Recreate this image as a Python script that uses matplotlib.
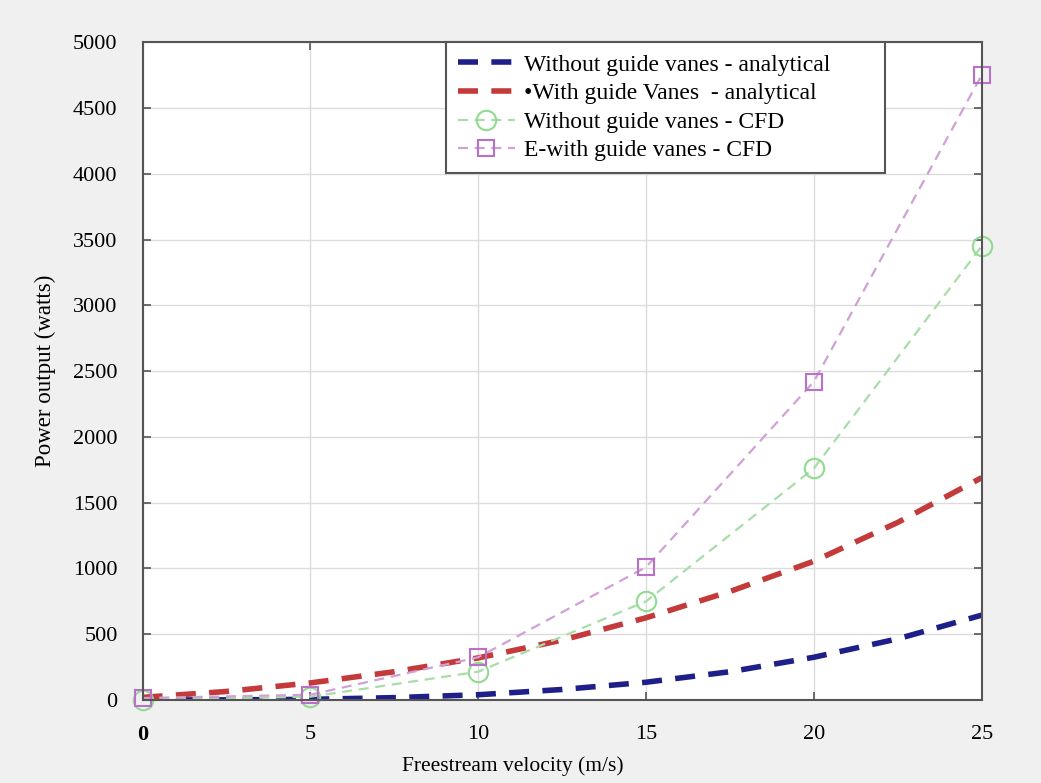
import matplotlib
matplotlib.use('Agg')
import matplotlib.pyplot as plt

# ── data ────────────────────────────────────────────────────────────────────
velocity_analytical = [0, 2.5, 5, 7.5, 10, 12.5, 15, 17.5, 20, 22.5, 25]
power_no_vanes_analytical = [0, 1, 5, 18, 40, 80, 135, 215, 325, 465, 645]
power_vanes_analytical = [20, 65, 130, 215, 320, 455, 625, 825, 1055, 1350, 1690]

velocity_cfd = [0, 5, 10, 15, 20, 25]
power_no_vanes_cfd = [0, 25, 215, 750, 1760, 3450]
power_vanes_cfd = [15, 40, 325, 1010, 2420, 4750]

x_ticks = [0, 5, 10, 15, 20, 25]
y_ticks = [0, 500, 1000, 1500, 2000, 2500, 3000, 3500, 4000, 4500, 5000]

labels = [
    'Without guide vanes - analytical',
    '\u2022With guide Vanes  - analytical',
    'Without guide vanes - CFD',
    'E-with guide vanes - CFD',
]

plt.rcParams['font.family'] = ['Liberation Serif', 'DejaVu Serif']

fig = plt.figure(figsize=(10.41, 7.83), dpi=100, facecolor='#f0f0f0')
ax = fig.add_axes([0.137, 0.106, 0.806, 0.84])
ax.set_facecolor('white')

ax.plot(velocity_analytical, power_no_vanes_analytical, color='#1f1f8a', lw=4,
        dashes=(3.6, 2.4), label=labels[0])
ax.plot(velocity_analytical, power_vanes_analytical, color='#c43a3a', lw=4,
        dashes=(3.6, 2.4), label=labels[1])
ax.plot(velocity_cfd, power_no_vanes_cfd, color='#a8dca8', lw=1.6,
        dashes=(4.5, 3), marker='o', ms=14, mfc='none', mec='#8fdc8f', mew=1.5,
        clip_on=False, label=labels[2])
ax.plot(velocity_cfd, power_vanes_cfd, color='#d0a0d6', lw=1.6,
        dashes=(4.5, 3), marker='s', ms=11, mfc='none', mec='#b870c8', mew=1.5,
        clip_on=False, label=labels[3])

ax.set_xlim(0, 25)
ax.set_ylim(0, 5000)
ax.set_xticks(x_ticks)
ax.set_yticks(y_ticks)
ax.set_xticklabels([str(t) for t in x_ticks], fontsize=16)
ax.get_xticklabels()[0].set_fontweight('bold')
ax.set_yticklabels([str(t) for t in y_ticks], fontsize=16)

ax.grid(True, color='#dcdcdc', lw=1.0)
ax.tick_params(direction='in', length=6, width=1.2, color='#555555',
               top=True, right=True)
ax.tick_params(axis='x', pad=18)
ax.tick_params(axis='y', pad=18)
for spine in ax.spines.values():
    spine.set_color('#555555')
    spine.set_linewidth(1.5)

ax.set_xlabel('Freestream velocity (m/s)', fontsize=15.5, labelpad=10)
ax.xaxis.set_label_coords(0.441, -0.085)
ax.set_ylabel('Power output (watts)', fontsize=16.5, labelpad=12)

leg = ax.legend(loc='upper left', bbox_to_anchor=(0.362, 0.795, 0.523, 0.205),
                mode='expand', borderaxespad=0,
                fontsize=17, handlelength=2.4, handletextpad=0.4, labelspacing=0.3,
                fancybox=False, framealpha=1, edgecolor='#555555',
                borderpad=0.5)
leg.get_frame().set_linewidth(1.5)

fig.savefig('out.png', dpi=100, facecolor=fig.get_facecolor())
